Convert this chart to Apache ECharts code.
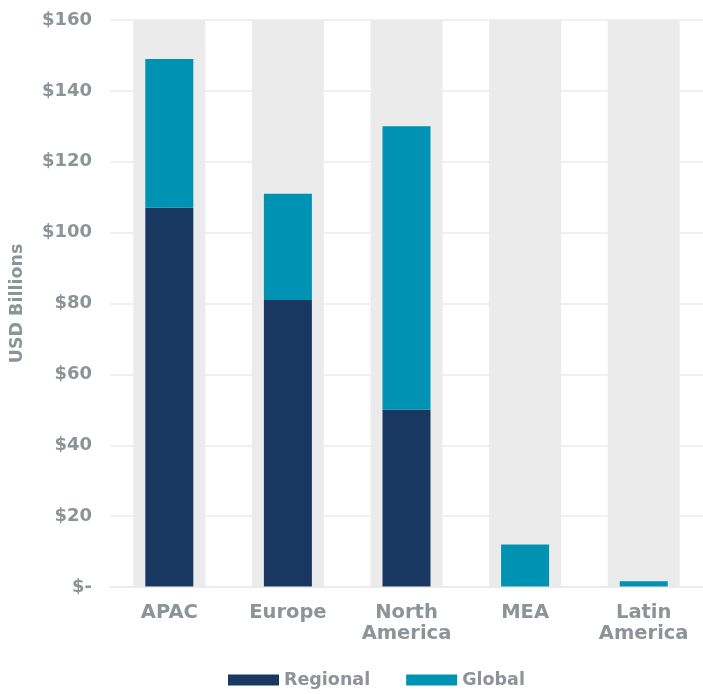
<!DOCTYPE html>
<html>
<head>
<meta charset="utf-8">
<script src="https://cdn.jsdelivr.net/npm/echarts@6/dist/echarts.min.js"></script>
<style>
  html, body { margin: 0; padding: 0; background: #ffffff; }
  #chart { width: 703px; height: 694px; }
</style>
</head>
<body>
<div id="chart"></div>
<script>
// Market size by region, split into regional and global players (USD billions)
const regions = ['APAC', 'Europe', 'North\nAmerica', 'MEA', 'Latin\nAmerica'];
const regional = [107, 81, 50, 0, 0];
const globalPlayers = [42, 30, 80, 12, 1.6];
const yTicks = { min: 0, max: 160, interval: 20 };
// Full-height shaded column behind each region
const bandValues = regions.map(() => yTicks.max);

const FONT = '"DejaVu Sans", sans-serif';
const GREY_TEXT = '#8d9396';
const NAVY = '#193861';
const TEAL = '#0092b3';

const chart = echarts.init(document.getElementById('chart'), null, { renderer: 'canvas' });

chart.setOption({
  animation: false,
  backgroundColor: '#ffffff',
  textStyle: { fontFamily: FONT },
  grid: { left: 110, right: 0, top: 20, bottom: 107, containLabel: false },
  legend: {
    left: 223,
    top: 666,
    itemWidth: 51,
    itemHeight: 11,
    itemGap: 36,
    icon: 'rect',
    textStyle: { color: GREY_TEXT, fontSize: 17.5, fontWeight: 'bold', fontFamily: FONT },
    data: ['Regional', 'Global']
  },
  xAxis: [
    {
      type: 'category',
      data: regions,
      z: 3,
      axisTick: { show: false },
      axisLine: { show: true, lineStyle: { color: 'rgba(232,232,232,0.55)', width: 2 } },
      axisLabel: {
        color: GREY_TEXT,
        fontSize: 19.5,
        fontWeight: 'bold',
        fontFamily: FONT,
        margin: 15,
        lineHeight: 21
      }
    },
    {
      type: 'category',
      data: regions,
      show: false
    }
  ],
  yAxis: {
    type: 'value',
    min: yTicks.min,
    max: yTicks.max,
    interval: yTicks.interval,
    name: 'USD Billions',
    nameLocation: 'middle',
    nameRotate: 90,
    nameGap: 84,
    nameTextStyle: { color: GREY_TEXT, fontSize: 17.5, fontWeight: 'bold', fontFamily: FONT },
    axisLine: { show: false },
    axisTick: { show: false },
    splitLine: { show: true, lineStyle: { color: '#ebebeb', width: 1.5 } },
    axisLabel: {
      color: GREY_TEXT,
      fontSize: 18,
      fontWeight: 'bold',
      fontFamily: FONT,
      margin: 18,
      formatter: v => (v === 0 ? '$-' : '$' + v)
    }
  },
  series: [
    {
      name: 'band',
      type: 'bar',
      xAxisIndex: 1,
      data: bandValues,
      barWidth: 72,
      silent: true,
      z: 1,
      itemStyle: { color: '#ebebeb' },
      tooltip: { show: false }
    },
    {
      name: 'Regional',
      type: 'bar',
      stack: 'total',
      data: regional,
      barWidth: 48,
      z: 2,
      itemStyle: { color: NAVY }
    },
    {
      name: 'Global',
      type: 'bar',
      stack: 'total',
      data: globalPlayers,
      barWidth: 48,
      z: 2,
      itemStyle: { color: TEAL }
    }
  ]
});
</script>
</body>
</html>
